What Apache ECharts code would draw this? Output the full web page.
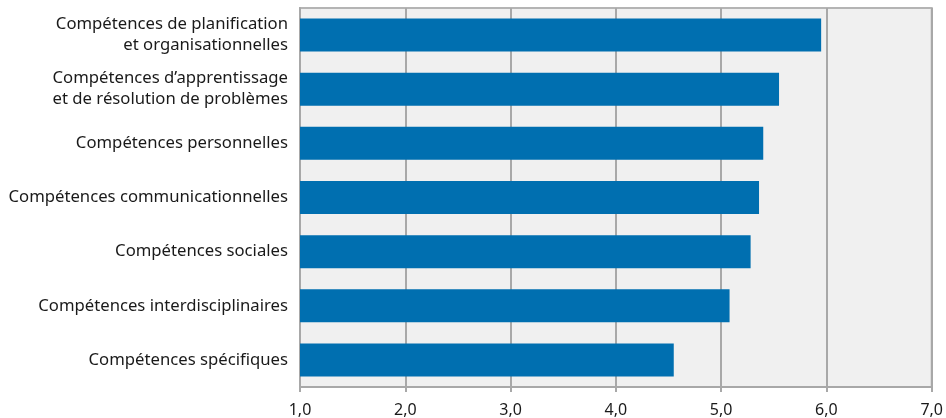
<!DOCTYPE html>
<html>
<head>
<meta charset="utf-8">
<script src="https://cdn.jsdelivr.net/npm/echarts@6/dist/echarts.min.js"></script>
<style>
  html, body { margin: 0; padding: 0; background: #fff; }
  #chart { width: 946px; height: 418px; }
</style>
</head>
<body>
<div id="chart"></div>
<script>
// catégories (de haut en bas)
const categories = [
  'Compétences de planification\net organisationnelles',
  'Compétences d\u2019apprentissage\net de résolution de problèmes',
  'Compétences personnelles',
  'Compétences communicationnelles',
  'Compétences sociales',
  'Compétences interdisciplinaires',
  'Compétences spécifiques'
]
const values = [5.95, 5.55, 5.40, 5.36, 5.28, 5.08, 4.55]

const chart = echarts.init(document.getElementById('chart'))

const option = {
  animation: false,
  textStyle: { fontFamily: 'Noto Sans' },
  grid: {
    left: 300,
    right: 13,
    top: 8,
    bottom: 31,
    show: true,
    backgroundColor: '#f0f0f0',
    borderColor: '#b4b4b4',
    borderWidth: 2
  },
  xAxis: {
    type: 'value',
    min: 1,
    max: 7,
    interval: 1,
    axisLine: { show: true, lineStyle: { color: '#a8a8a8', width: 2 } },
    axisTick: { show: true, length: 5, lineStyle: { color: '#a8a8a8', width: 2 } },
    splitLine: { show: true, lineStyle: { color: '#a8a8a8', width: 2 } },
    axisLabel: {
      color: '#1a1a1a',
      fontSize: 16,
      margin: 15,
      formatter: (v) => v.toFixed(1).replace('.', ',')
    }
  },
  yAxis: {
    type: 'category',
    data: categories,
    inverse: true,
    axisLine: { show: true, lineStyle: { color: '#a8a8a8', width: 2 } },
    axisTick: { show: false },
    axisLabel: {
      color: '#1a1a1a',
      fontSize: 16.7,
      lineHeight: 21,
      margin: 12,
      align: 'right'
    }
  },
  series: [{
    type: 'bar',
    data: values,
    barWidth: 33,
    itemStyle: { color: '#006fb0' }
  }]
}

chart.setOption(option)
</script>
</body>
</html>
